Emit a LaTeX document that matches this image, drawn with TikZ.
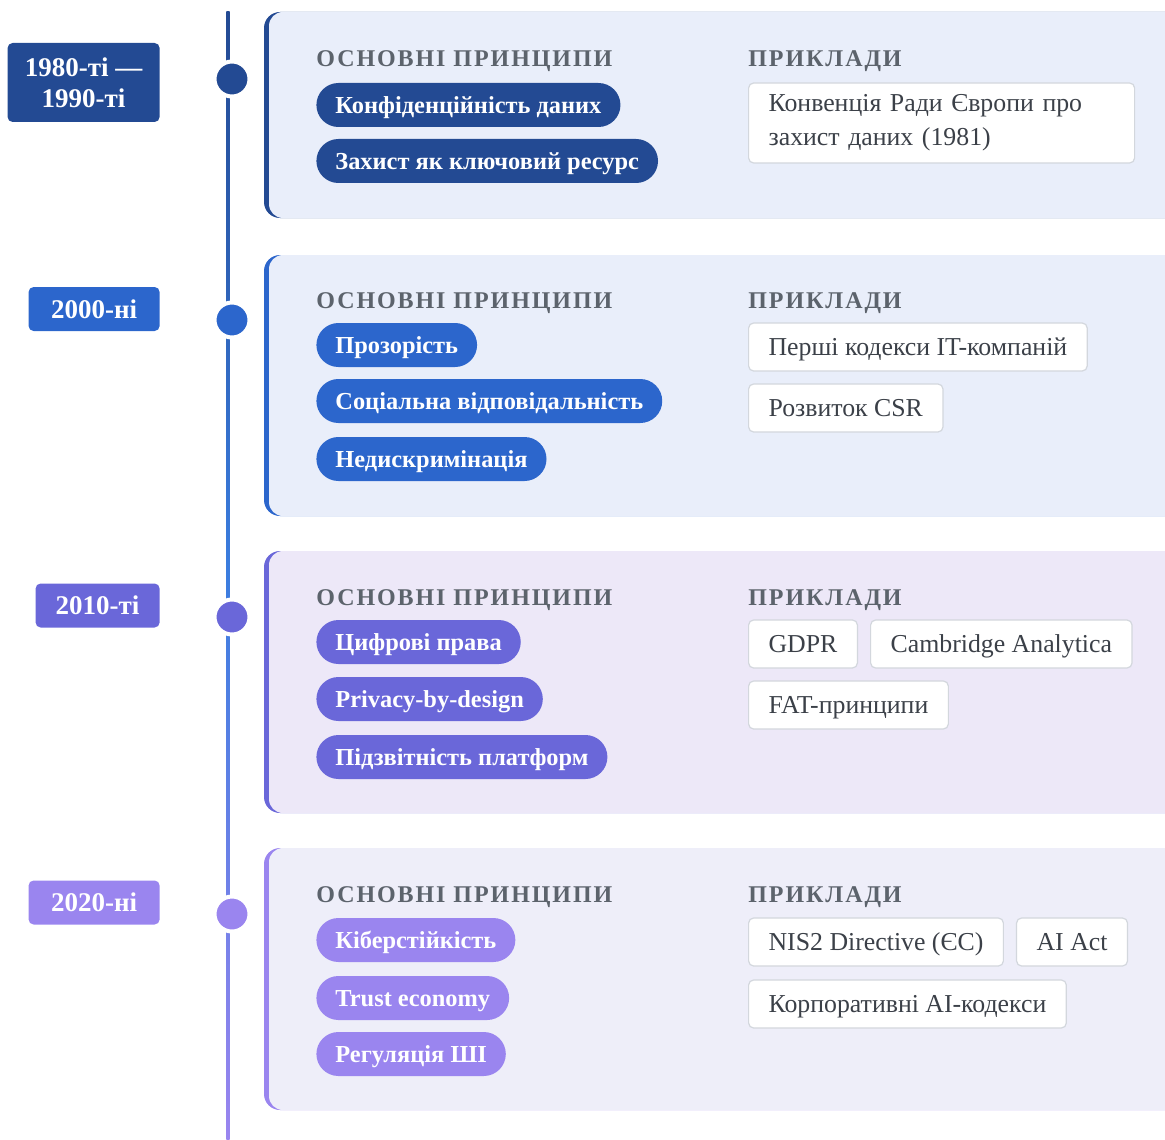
\documentclass[tikz,border=0pt]{standalone}
\usepackage{fontspec}
\setmainfont{Liberation Serif}
\newfontfamily\headfont[LetterSpace=8]{Liberation Serif}
\usetikzlibrary{positioning}

\definecolor{darkblue}{HTML}{234A93}
\definecolor{midblue}{HTML}{2C66CC}
\definecolor{indigo}{HTML}{6A67D9}
\definecolor{lavender}{HTML}{9A85EF}
\definecolor{paleblue}{HTML}{E9EEFA}
\definecolor{palelilac}{HTML}{EDE8F8}
\definecolor{palegrey}{HTML}{EEEEF9}
\definecolor{headgrey}{HTML}{5C636C}
\definecolor{extext}{HTML}{3B4048}
\definecolor{exline}{HTML}{D3D7DD}
\definecolor{linemid}{HTML}{3B7DDF}

\tikzset{
  year/.style={fill=#1, text=white, rounded corners=2.5pt, anchor=east, align=center,
    inner xsep=8pt, minimum height=22pt, font=\fontsize{13.5}{15.5}\selectfont\bfseries},
  dot/.style={circle, fill=#1, draw=white, line width=2pt, minimum size=17.5pt, inner sep=0pt},
  head/.style={anchor=west, inner sep=0pt, text height=8pt, text depth=0pt, text=headgrey,
    font=\headfont\fontsize{12}{14}\selectfont\bfseries},
  pill/.style={fill=#1, text=white, rounded corners=11pt, anchor=west, inner xsep=9.5pt,
    minimum height=22pt, text height=8.2pt, text depth=0pt, font=\fontsize{12.2}{15}\selectfont\bfseries},
  example/.style={fill=white, draw=exline, line width=0.6pt, rounded corners=2.5pt, anchor=west,
    inner xsep=10pt, minimum height=24pt, text height=8.5pt, text depth=0pt, text=extext,
    font=\fontsize{12.9}{17}\selectfont}
}

\begin{document}
\begin{tikzpicture}[x=0.5pt, y=-0.5pt]
  \clip (0,0) rectangle (1165,1139);

  \fill[darkblue, rounded corners=8pt] (264,12) rectangle (1200,218);
  \fill[paleblue, rounded corners=7pt] (269,12) rectangle (1200,218);
  \fill[midblue, rounded corners=8pt] (264,255) rectangle (1200,516);
  \fill[paleblue, rounded corners=7pt] (269,255) rectangle (1200,516);
  \fill[indigo, rounded corners=8pt] (264,551) rectangle (1200,813);
  \fill[palelilac, rounded corners=7pt] (269,551) rectangle (1200,813);
  \fill[lavender, rounded corners=8pt] (264,848) rectangle (1200,1110);
  \fill[palegrey, rounded corners=7pt] (269,848) rectangle (1200,1110);

  \coordinate (tltop) at (228,12);
  \coordinate (tlbot) at (228,1139);
  \shade[top color=darkblue, bottom color=lavender, middle color=linemid]
    ([xshift=-0.8pt]tltop) rectangle ([xshift=0.8pt]tlbot);

  \node[dot=darkblue] (dot1) at (232,79) {};
  \node[dot=midblue] (dot2) at (232,320) {};
  \node[dot=indigo] (dot3) at (232,617) {};
  \node[dot=lavender] (dot4) at (232,914) {};

  \node[year=darkblue, minimum height=39.5pt, minimum width=76pt] (year1) at (160,82.5) {1980-ті —\\1990-ті};
  \node[year=midblue, minimum width=65.5pt] (year2) at (160,309) {2000-ні};
  \node[year=indigo, minimum width=62pt] (year3) at (160,605.5) {2010-ті};
  \node[year=lavender, minimum width=65.5pt] (year4) at (160,902.5) {2020-ні};

  \node[head] (prin1) at (316,59) {ОСНОВНІ ПРИНЦИПИ};
  \node[head] (prykl1) at (748,59) {ПРИКЛАДИ};
  \node[pill=darkblue] (p11) at (316,105) {Конфіденційність даних};
  \node[pill=darkblue] (p12) at (316,161) {Захист як ключовий ресурс};
  \node[example, text height={}, text depth={}, text width=173pt, align=left, minimum height=40pt]
    (ex11) at (748,123) {Конвенція Ради Європи про\\захист даних (1981)};

  \node[head] (prin2) at (316,300) {ОСНОВНІ ПРИНЦИПИ};
  \node[head] (prykl2) at (748,300) {ПРИКЛАДИ};
  \node[pill=midblue] (p21) at (316,345) {Прозорість};
  \node[pill=midblue] (p22) at (316,401) {Соціальна відповідальність};
  \node[pill=midblue] (p23) at (316,459) {Недискримінація};
  \node[example] (ex21) at (748,347) {Перші кодекси IT-компаній};
  \node[example] (ex22) at (748,408) {Розвиток CSR};

  \node[head] (prin3) at (316,597) {ОСНОВНІ ПРИНЦИПИ};
  \node[head] (prykl3) at (748,597) {ПРИКЛАДИ};
  \node[pill=indigo] (p31) at (316,642) {Цифрові права};
  \node[pill=indigo] (p32) at (316,699) {Privacy-by-design};
  \node[pill=indigo] (p33) at (316,757) {Підзвітність платформ};
  \node[example] (ex31) at (748,644) {GDPR};
  \node[example, right=6pt of ex31] (ex32) {Cambridge Analytica};
  \node[example] (ex33) at (748,705) {FAT-принципи};

  \node[head] (prin4) at (316,894) {ОСНОВНІ ПРИНЦИПИ};
  \node[head] (prykl4) at (748,894) {ПРИКЛАДИ};
  \node[pill=lavender] (p41) at (316,940) {Кіберстійкість};
  \node[pill=lavender] (p42) at (316,998) {Trust economy};
  \node[pill=lavender] (p43) at (316,1054) {Регуляція ШІ};
  \node[example] (ex41) at (748,942) {NIS2 Directive (ЄС)};
  \node[example, right=6pt of ex41] (ex42) {AI Act};
  \node[example] (ex43) at (748,1004) {Корпоративні AI-кодекси};
\end{tikzpicture}
\end{document}
